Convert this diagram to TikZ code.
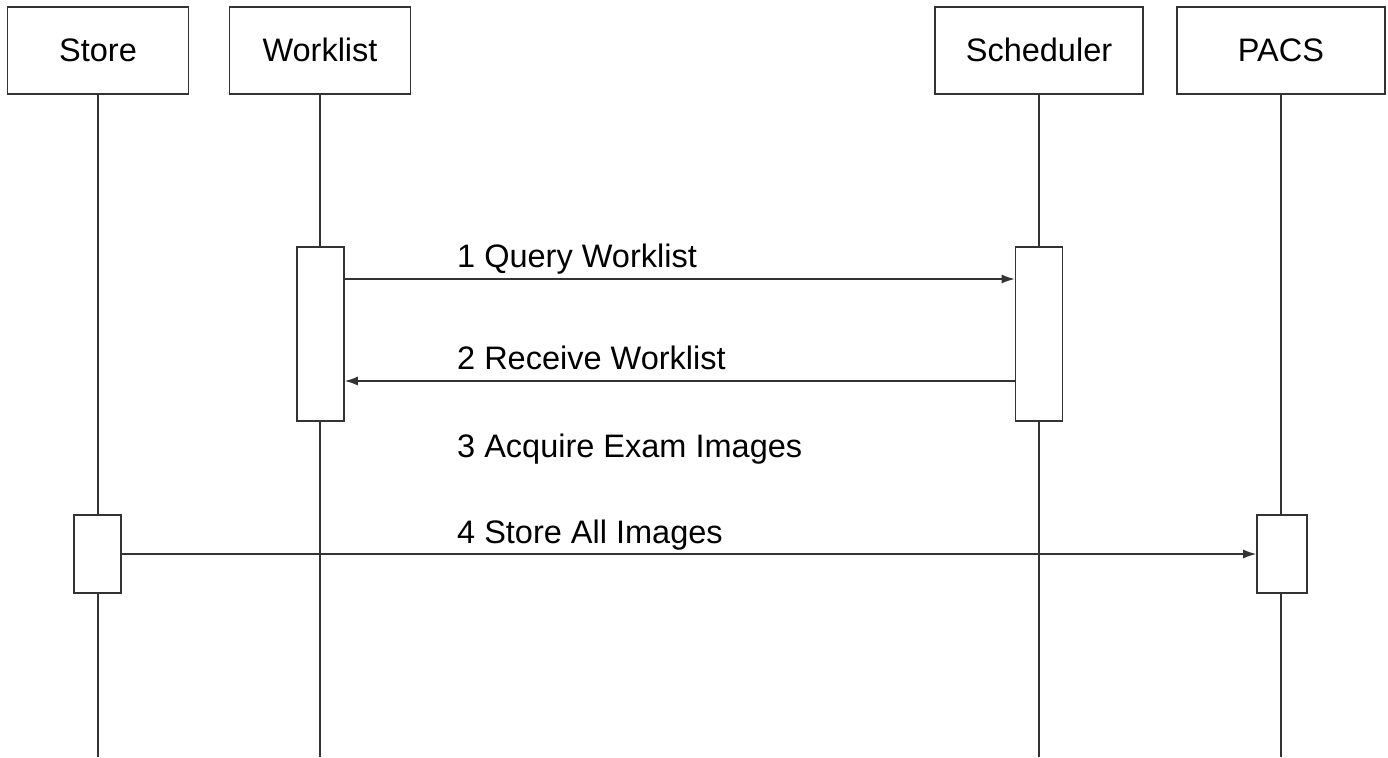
\documentclass[tikz,border=0pt]{standalone}
\usepackage{fontspec}
\setmainfont{Liberation Sans}
\usetikzlibrary{arrows.meta}

\tikzset{
  actor/.style={draw=black!80, line width=1.6pt, fill=white, minimum height=87pt, inner sep=0pt, text height=23pt, text depth=0pt},
  actbox/.style={draw=black!80, line width=1.6pt, fill=white, minimum width=47pt, minimum height=174pt, inner sep=0pt},
  life/.style={draw=black!80, line width=1.4pt},
  msg/.style={draw=black!80, line width=1.4pt, -{Latex[length=13pt,width=9pt]}},
  lbl/.style={anchor=base west, inner sep=0pt, font=\fontsize{32.5}{38}\selectfont}
}

\begin{document}
\begin{tikzpicture}[x=1pt, y=-1pt, font=\fontsize{32.5}{38}\selectfont]
            \useasboundingbox (0,0) rectangle (1388,757);
            % heads of the lifelines
            \node[actor, minimum width=181pt] (store) at (98,50.5) {Store};
            \node[actor, minimum width=181pt] (worklist) at (320,50.5) {Worklist};
            \node[actor, minimum width=208pt] (sched) at (1039,50.5) {Scheduler};
            \node[actor, minimum width=208pt] (pacs) at (1281,50.5) {PACS};
            \coordinate (storeend) at (98,757);
            \coordinate (worklistend) at (320,757);
            \coordinate (schedend) at (1039,757);
            \coordinate (pacsend) at (1281,757);
            \draw[life] (store.south) -- (storeend);
            \draw[life] (worklist.south) -- (worklistend);
            \draw[life] (sched.south) -- (schedend);
            \draw[life] (pacs.south) -- (pacsend);
            % activations
            \node[actbox] (wlact) at (320.5,334) {};
            \node[actbox] (schact) at (1039,334) {};
            \node[actbox, minimum height=78pt] (storeact) at (97.5,554) {};
            \node[actbox, minimum height=78pt, minimum width=50pt] (pacsact) at (1282,554) {};
            % messages
            \draw[msg] ([yshift=55pt]wlact.east) -- ([yshift=55pt]schact.west);
            \draw[msg] ([yshift=-47pt]schact.west) -- ([yshift=-47pt]wlact.east);
            \draw[msg] (storeact.east) -- (pacsact.west);
            \node[lbl] (m1) at (457,267) {1 Query Worklist};
            \node[lbl] (m2) at (457,369) {2 Receive Worklist};
            \node[lbl] (m3) at (457,457) {3 Acquire Exam Images};
            \node[lbl] (m4) at (457,543) {4 Store All Images};
        \end{tikzpicture}
\end{document}
